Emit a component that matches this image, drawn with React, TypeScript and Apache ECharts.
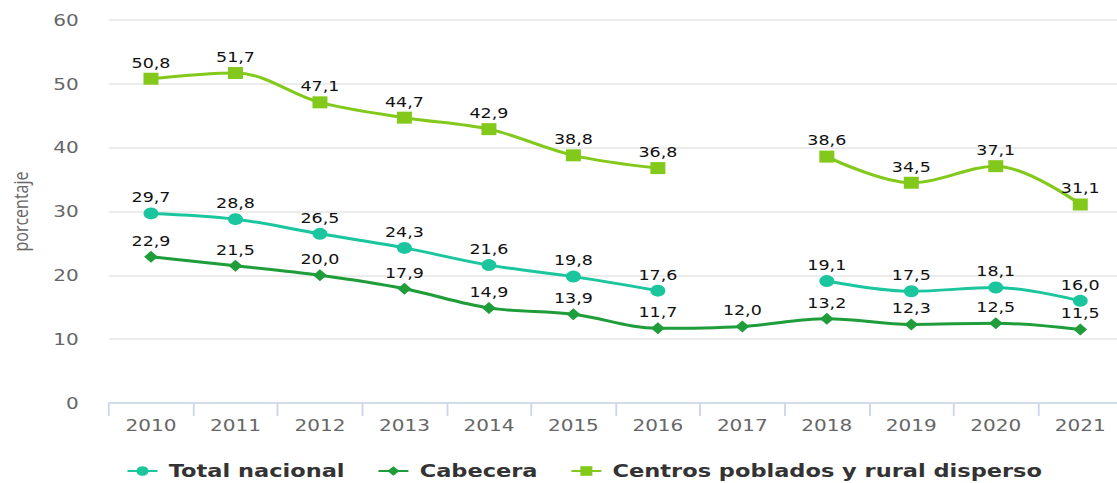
import React, { useEffect, useRef } from "react";
import * as echarts from "echarts";

const years = ["2010", "2011", "2012", "2013", "2014", "2015", "2016", "2017", "2018", "2019", "2020", "2021"];
const totalNacional = [29.7, 28.8, 26.5, 24.3, 21.6, 19.8, 17.6, null, 19.1, 17.5, 18.1, 16.0];
const cabecera = [22.9, 21.5, 20.0, 17.9, 14.9, 13.9, 11.7, 12.0, 13.2, 12.3, 12.5, 11.5];
const centrosPoblados = [50.8, 51.7, 47.1, 44.7, 42.9, 38.8, 36.8, null, 38.6, 34.5, 37.1, 31.1];
const seriesNames = ["Total nacional", "Cabecera", "Centros poblados y rural disperso"];
const yTicks = { min: 0, max: 60, interval: 10 };

// the reference picture is stretched horizontally
const S = 1.25;
const W = 1122 / S;

const fmt = (v: any) => (v == null ? "" : Number(v).toFixed(1).replace(".", ","));

export default function App() {
  const ref = useRef<HTMLDivElement>(null);
  useEffect(() => {
    document.body.style.overflow = "hidden";
    const chart = echarts.init(ref.current!, null, { renderer: "svg" });
    const labelStyle = {
      show: true,
      position: "top" as const,
      distance: 3,
      fontFamily: "DejaVu Sans",
      fontSize: 14,
      color: "#111",
      formatter: (p: any) => fmt(p.value),
    };
    const mk = (name: string, data: any[], color: string, symbol: string, size: number[]) => ({
      name,
      type: "line",
      data,
      smooth: 0.35,
      connectNulls: false,
      symbol,
      symbolSize: size,
      lineStyle: { color, width: 3 },
      itemStyle: { color },
      label: labelStyle,
      z: 3,
    });
    chart.setOption({
      animation: false,
      grid: { left: 103 / S, right: 0, top: 20, bottom: 80 },
      legend: {
        left: 120 / S,
        top: 457,
        itemWidth: 24,
        itemHeight: 12,
        itemGap: 26,
        textStyle: {
          fontFamily: "DejaVu Sans",
          fontSize: 18,
          fontWeight: "bold",
          color: "#333",
          padding: [0, 0, 0, 4],
        },
        data: seriesNames,
      },
      xAxis: {
        type: "category",
        data: years,
        boundaryGap: true,
        axisLine: { lineStyle: { color: "#ccd6eb", width: 1.5 } },
        axisTick: { show: true, length: 13, lineStyle: { color: "#ccd6eb", width: 1.5 } },
        axisLabel: { color: "#666", fontFamily: "DejaVu Sans", fontSize: 16, margin: 14 },
        splitLine: { show: false },
      },
      yAxis: {
        type: "value",
        min: yTicks.min,
        max: yTicks.max,
        interval: yTicks.interval,
        name: "porcentaje",
        nameLocation: "middle",
        nameGap: 63,
        nameTextStyle: { color: "#666", fontFamily: "Open Sans", fontSize: 16 },
        axisLine: { show: false },
        axisTick: { show: false },
        axisLabel: { color: "#666", fontFamily: "DejaVu Sans", fontSize: 16, margin: 24 },
        splitLine: { lineStyle: { color: "#e6e6e6", width: 1.5 } },
      },
      series: [
        mk(seriesNames[0], totalNacional, "#1bc69e", "circle", [12, 12]),
        mk(seriesNames[1], cabecera, "#1f9d3a", "diamond", [11, 12]),
        mk(seriesNames[2], centrosPoblados, "#82c91c", "rect", [12, 12]),
      ],
    });
    return () => chart.dispose();
  }, []);
  return (
    <div style={{ position: "fixed", left: 0, top: 0, width: 1117, height: 483, overflow: "hidden", background: "#fff" }}>
      <div
        ref={ref}
        style={{ width: W, height: 483, transform: `scaleX(${S})`, transformOrigin: "0 0" }}
      />
    </div>
  );
}
